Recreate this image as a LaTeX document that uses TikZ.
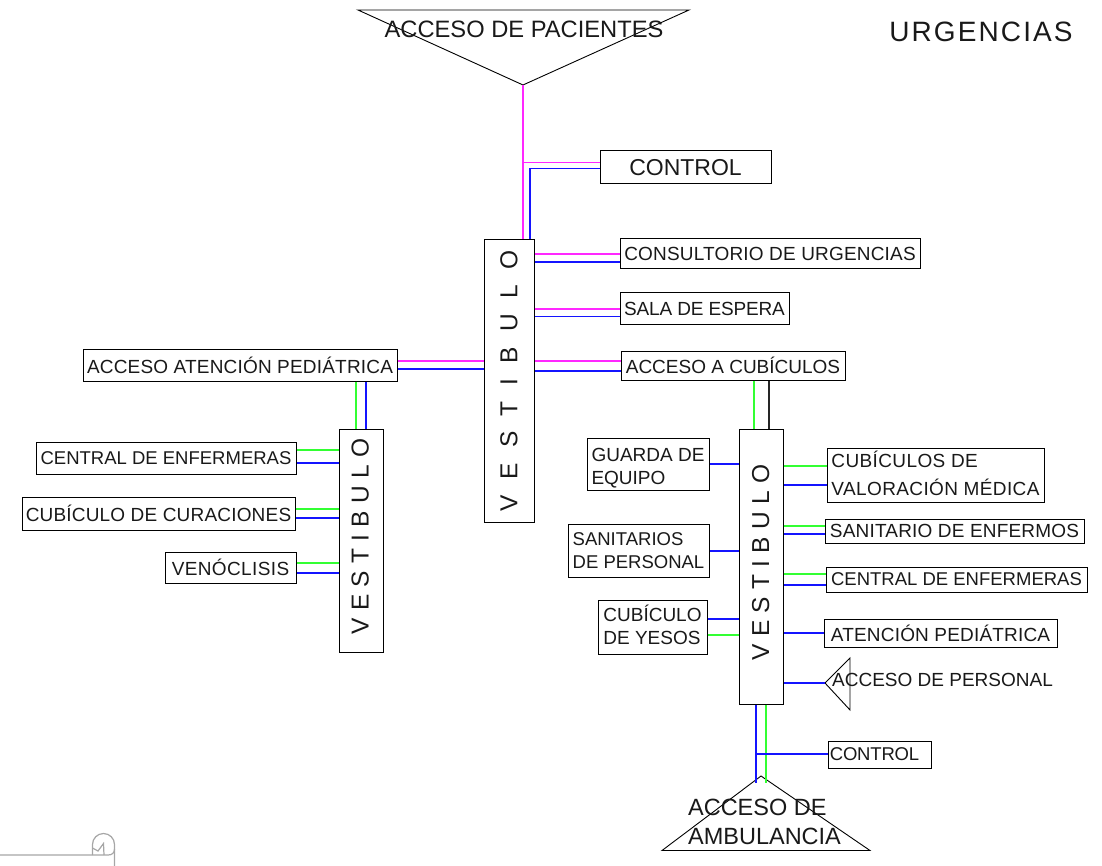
\documentclass[tikz,border=0pt]{standalone}
\usepackage{fontspec}
\setmainfont{Liberation Sans}
\usetikzlibrary{calc}
\definecolor{cmg}{RGB}{255,40,255}
\definecolor{cbl}{RGB}{20,20,255}
\definecolor{cgr}{RGB}{50,255,50}
\tikzset{
  boxn/.style={draw=black,line width=1pt,inner sep=0pt,align=left,text=black!90},
  labeln/.style={inner sep=0pt,align=left,text=black!90},
  mg/.style={draw=cmg,line width=1.1pt},
  bl/.style={draw=cbl,line width=1.1pt},
  gr/.style={draw=cgr,line width=1.1pt},
  dk/.style={draw=black!85,line width=1.1pt},
  tri/.style={draw=black,line width=0.9pt},
  scrolln/.style={draw=black!35,line width=1.2pt}
}
\newcommand\fnt[2]{\fontsize{#1}{28}\selectfont\addfontfeature{LetterSpace=#2}}
\newcommand\bx[8]{\pgfmathsetmacro\bw{#4-#2}\pgfmathsetmacro\bh{#5-#3}%
  \node[boxn,minimum width=\bw pt,minimum height=\bh pt,font=\fontsize{#6}{23}\selectfont\addfontfeature{LetterSpace=#7}] (#1) at ({(#2+#4)/2},{(#3+#5)/2}) {#8};}
\newcommand\vbx[8]{\pgfmathsetmacro\bw{#4-#2}\pgfmathsetmacro\bh{#5-#3}%
  \node[boxn,minimum width=\bw pt,minimum height=\bh pt] (#1) at ({(#2+#4)/2},{(#3+#5)/2}) {\rotatebox{90}{\fontsize{24.5}{30}\selectfont\addfontfeature{LetterSpace=#6}\hspace*{#7pt}\raisebox{#8pt}{VESTIBULO}}};}
\newcommand\hl[4]{\draw[#1] (#2.east |- 0,#4) -- (#3.west |- 0,#4);}
\newcommand\vl[4]{\draw[#1] (#2.south -| #4,0) -- (#3.north -| #4,0);}
\begin{document}
\begin{tikzpicture}[x=1pt,y=-1pt]
\useasboundingbox (0,0) rectangle (1102,866);
% top triangle
\coordinate (topapex) at (523,85);
\draw[tri] (358,10) -- (689,10) -- (topapex) -- cycle;
\node[labeln,font=\fnt{23.7}{0}] (acpac) at (524,29.500) {ACCESO DE PACIENTES};
\node[labeln,font=\fnt{28}{7.5}] (urg) at (981,32) {URGENCIAS};
% boxes
\bx{control}{600}{151}{771}{184}{23}{0}{CONTROL}
\vbx{v1}{484}{240}{534}{522}{63}{0}{-3}
\bx{cons}{620}{239}{920}{269}{19}{1}{CONSULTORIO DE URGENCIAS}
\bx{sala}{620}{293}{789}{324}{19}{-1}{SALA DE ESPERA}
\bx{acub}{621}{351}{845}{380}{19}{0}{ACCESO A CUBÍCULOS}
\bx{aped}{83}{349}{397}{381}{19}{1}{ACCESO ATENCIÓN PEDIÁTRICA}
\vbx{v2}{339}{429}{383}{652}{29.6}{8}{2}
\bx{cenl}{36}{442}{296}{474}{18.5}{0}{CENTRAL DE ENFERMERAS}
\bx{curl}{22}{497}{295}{530}{19}{1}{CUBÍCULO DE CURACIONES}
\bx{veno}{165}{552}{296}{583}{19}{2}{VENÓCLISIS}
\vbx{v3}{739}{429}{783}{704}{29.6}{8}{1}
\bx{guarda}{587}{438}{709}{490}{19}{0}{\rule{0pt}{22pt}GUARDA DE\\EQUIPO}
\bx{sanp}{568}{524}{709}{577}{18.5}{0}{SANITARIOS\\DE PERSONAL}
\bx{yesos}{598}{600}{707}{654}{19}{0}{CUBÍCULO\\DE YESOS\rule[-4pt]{0pt}{4pt}}
\bx{cubv}{827}{448}{1044}{502}{19}{2}{CUBÍCULOS DE\\[5pt]VALORACIÓN MÉDICA\rule[-4pt]{0pt}{4pt}}
\bx{sane}{825}{519}{1084}{543}{19}{1}{SANITARIO DE ENFERMOS}
\bx{cenr}{826}{567}{1087}{592}{18.5}{0}{CENTRAL DE ENFERMERAS}
\bx{aten}{824}{619}{1057}{647}{19}{1}{ATENCIÓN PEDIÁTRICA}
\bx{ctl2}{828}{741}{931}{768}{18.5}{-1}{CONTROL\hspace*{10pt}}
% personal triangle
\coordinate (pertip) at (825,683);
\draw[tri] (850,658) -- (pertip) -- (850,710) -- cycle;
\node[labeln,font=\fnt{19}{0}] (acper) at (942.5,680) {ACCESO DE PERSONAL};
% ambulance triangle
\coordinate (ambapex) at (761,776);
\coordinate (ambb) at (756,783);
\coordinate (ambg) at (766,783);
\draw[tri] (ambapex) -- (870,850.5) -- (662,850.5) -- cycle;
\node[labeln,font=\fontsize{23.5}{29}\selectfont] (acamb) at (764.5,822) {ACCESO DE\\AMBULANCIA};
% connectors
\draw[mg] (topapex) -- (v1.north -| topapex);
\draw[mg] (topapex |- 0,162.5) -- (control.west |- 0,162.5);
\draw[bl] (control.west |- 0,168.5) -- (530,168.5) -- (v1.north -| 530,0);
\hl{mg}{v1}{cons}{254}
\hl{bl}{v1}{cons}{262}
\hl{mg}{v1}{sala}{309}
\hl{bl}{v1}{sala}{316.5}
\hl{mg}{v1}{acub}{361}
\hl{bl}{v1}{acub}{371}
\hl{mg}{aped}{v1}{361}
\hl{bl}{aped}{v1}{369}
\vl{gr}{aped}{v2}{356}
\vl{bl}{aped}{v2}{366}
\hl{gr}{cenl}{v2}{450}
\hl{bl}{cenl}{v2}{463}
\hl{gr}{curl}{v2}{509}
\hl{bl}{curl}{v2}{518}
\hl{gr}{veno}{v2}{563}
\hl{bl}{veno}{v2}{573}
\vl{gr}{acub}{v3}{754}
\vl{dk}{acub}{v3}{769}
\hl{bl}{guarda}{v3}{464}
\hl{bl}{sanp}{v3}{551}
\hl{bl}{yesos}{v3}{619}
\hl{gr}{yesos}{v3}{635}
\hl{gr}{v3}{cubv}{466}
\hl{bl}{v3}{cubv}{485}
\hl{gr}{v3}{sane}{526}
\hl{bl}{v3}{sane}{534}
\hl{gr}{v3}{cenr}{574}
\hl{bl}{v3}{cenr}{585}
\hl{bl}{v3}{aten}{633}
\draw[bl] (v3.east |- pertip) -- (pertip);
\draw[bl] (v3.south -| ambb) -- (ambb);
\draw[gr] (v3.south -| ambg) -- (ambg);
\draw[bl] (ambb |- 0,754) -- (ctl2.west |- 0,754);
% scroll mark
\draw[scrolln] (0,855) -- (108,855) .. controls (112,855) and (114.5,853) .. (114.5,849);
\draw[scrolln] (114.5,866) -- (114.5,844.5) arc (0:-180:11) -- (92.5,855);
\draw[scrolln] (92.5,848) -- (98,851) -- (103.5,843.5) -- (104,855);
\end{tikzpicture}
\end{document}
